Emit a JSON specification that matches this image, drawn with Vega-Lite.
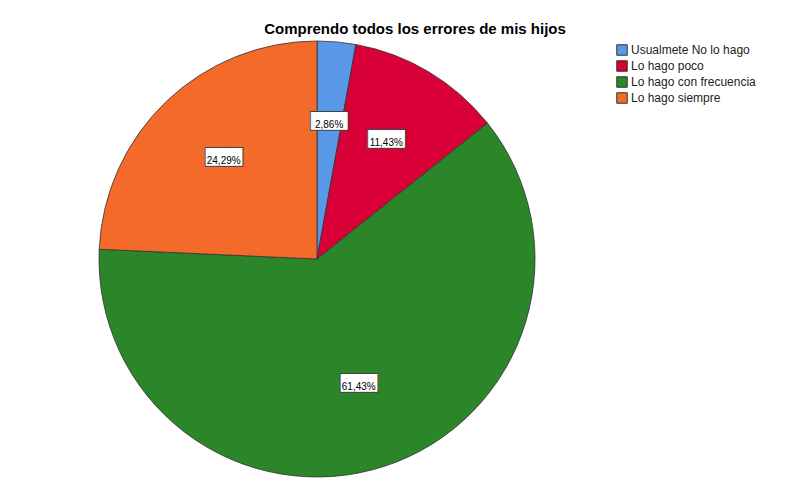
{
  "$schema": "https://vega.github.io/schema/vega-lite/v6.json",
  "width": 436,
  "height": 436,
  "autosize": "none",
  "padding": {"left": 99, "top": 41, "right": 269, "bottom": 4},
  "background": "white",
  "config": {"view": {"stroke": null}},
  "title": {
    "text": "Comprendo todos los errores de mis hijos",
    "font": "Liberation Sans",
    "fontSize": 15,
    "fontWeight": "bold",
    "color": "#000000",
    "anchor": "middle",
    "dx": 98,
    "offset": 2
  },
  "data": {
    "values": [
      {"respuesta": "Usualmete No lo hago", "porcentaje": 2.86, "orden": 1, "etiqueta": "2,86%"},
      {"respuesta": "Lo hago poco", "porcentaje": 11.43, "orden": 2, "etiqueta": "11,43%"},
      {"respuesta": "Lo hago con frecuencia", "porcentaje": 61.43, "orden": 3, "etiqueta": "61,43%"},
      {"respuesta": "Lo hago siempre", "porcentaje": 24.29, "orden": 4, "etiqueta": "24,29%"}
    ]
  },
  "encoding": {
    "theta": {"field": "porcentaje", "type": "quantitative", "stack": true},
    "order": {"field": "orden", "type": "ordinal"},
    "detail": {"field": "respuesta", "type": "nominal"}
  },
  "layer": [
    {
      "mark": {"type": "arc", "outerRadius": 218, "stroke": "#333333", "strokeWidth": 0.8},
      "encoding": {
        "color": {
          "field": "respuesta",
          "type": "nominal",
          "scale": {
            "domain": ["Usualmete No lo hago", "Lo hago poco", "Lo hago con frecuencia", "Lo hago siempre"],
            "range": ["#5898e6", "#d80036", "#2a8629", "#f36a2b"]
          },
          "legend": {
            "orient": "none",
            "legendX": 517,
            "legendY": 3,
            "title": null,
            "padding": 0,
            "symbolType": "square",
            "symbolSize": 110,
            "symbolStrokeColor": "#333333",
            "symbolStrokeWidth": 1,
            "symbolOpacity": 1,
            "labelFont": "Liberation Sans",
            "labelFontSize": 12,
            "labelColor": "#222222",
            "labelOffset": 3,
            "rowPadding": 0
          }
        }
      }
    },
    {
      "mark": {"type": "text", "radius": 135, "text": "▀▀", "font": "DejaVu Sans Mono", "fontSize": 30, "baseline": "alphabetic", "align": "center", "dy": 15, "fill": "#444444", "stroke": "#444444", "strokeWidth": 2}
    },
    {
      "mark": {"type": "text", "radius": 135, "text": "▀▀", "font": "DejaVu Sans Mono", "fontSize": 30, "baseline": "alphabetic", "align": "center", "dy": 15, "fill": "#ffffff"}
    },
    {
      "mark": {"type": "text", "radius": 135, "font": "Liberation Sans", "fontSize": 10, "baseline": "middle", "align": "center", "fill": "#000000"},
      "encoding": {"text": {"field": "etiqueta", "type": "nominal"}}
    }
  ]
}
